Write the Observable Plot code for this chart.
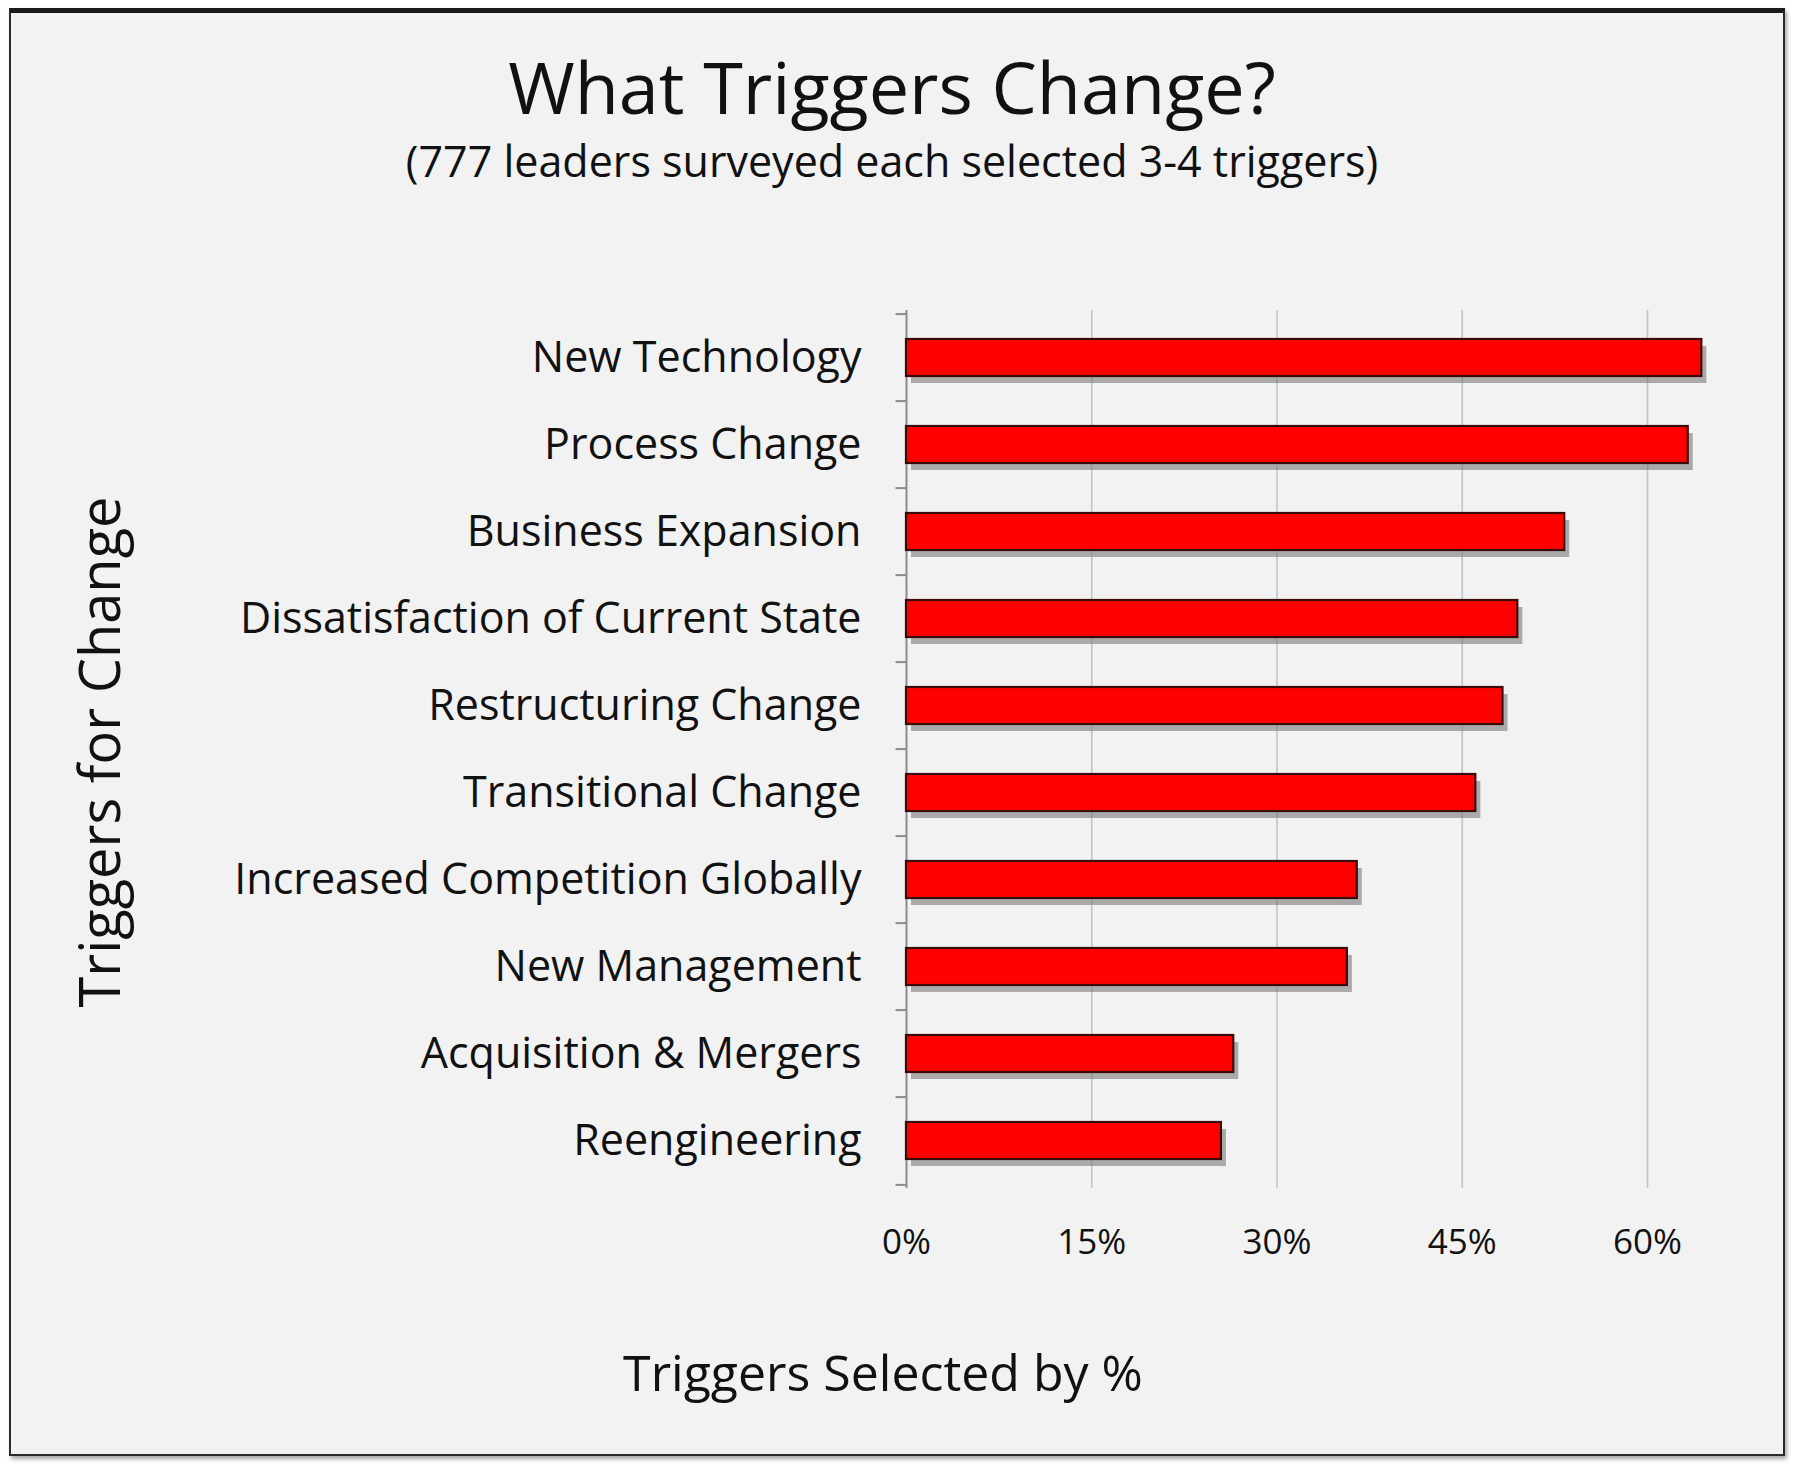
<!DOCTYPE html>
<html>
<head>
<meta charset="utf-8">
<script src="https://cdn.jsdelivr.net/npm/d3@7"></script>
<script src="https://cdn.jsdelivr.net/npm/@observablehq/plot@0.6"></script>
<style>
  html, body { margin: 0; padding: 0; background: #ffffff; }
  #page { position: relative; width: 1800px; height: 1472px; overflow: hidden; font-family: "Open Sans", sans-serif; color: #111; }
  #frame { position: absolute; left: 9px; top: 8px; width: 1776px; height: 1448px; box-sizing: border-box;
           border: 2px solid #2a2a2a; border-top: 5px solid #1a1a1a; background: #f2f2f2;
           box-shadow: 2px 3px 4px rgba(0,0,0,0.35); }
  .title { position: absolute; left: 0; width: 1784px; text-align: center; white-space: nowrap; }
  #t1 { top: 42px; font-size: 72px; line-height: 88px; }
  #t2 { top: 135px; font-size: 43px; line-height: 52px; }
  #chart { position: absolute; left: 0; top: 220px; }
  #xlabel { position: absolute; left: 483px; width: 800px; top: 1342px; text-align: center; font-size: 50px; line-height: 60px; white-space: nowrap; }
  #ylabel { position: absolute; left: 98px; top: 752px; transform: translate(-50%, -50%) rotate(-90deg); font-size: 56px; line-height: 64px; white-space: nowrap; }
</style>
</head>
<body>
<div id="page">
  <div id="frame"></div>
  <div class="title" id="t1">What Triggers Change?</div>
  <div class="title" id="t2">(777 leaders surveyed each selected 3-4 triggers)</div>
  <div id="chart"></div>
  <div id="xlabel">Triggers Selected by %</div>
  <div id="ylabel">Triggers for Change</div>
</div>
<script>
const categories = [
  "New Technology",
  "Process Change",
  "Business Expansion",
  "Dissatisfaction of Current State",
  "Restructuring Change",
  "Transitional Change",
  "Increased Competition Globally",
  "New Management",
  "Acquisition & Mergers",
  "Reengineering"
];
const values = [64.4, 63.3, 53.3, 49.5, 48.3, 46.1, 36.5, 35.7, 26.5, 25.5];
const xTicks = [0, 15, 30, 45, 60];
const xGrid = [15, 30, 45, 60];

const data = categories.map((c, i) => ({trigger: c, pct: values[i]}));
const lastCategory = [categories[categories.length - 1]];

const H = 1230, mTop = 90, mBottom = 262;
const step = (H - mTop - mBottom) / categories.length;

const chart = Plot.plot({
  width: 1800,
  height: H,
  marginTop: mTop,
  marginBottom: mBottom,
  marginLeft: 906,
  marginRight: 29.5,
  style: {background: "transparent", fontFamily: "'Open Sans', sans-serif", color: "#111"},
  x: {domain: [0, 70], axis: null},
  y: {domain: categories, paddingInner: 0.58, paddingOuter: 0.29, axis: null},
  marks: [
    Plot.ruleX(xGrid, {stroke: "#c2c4c8", strokeWidth: 1.6}),
    Plot.ruleX([0], {stroke: "#8c8c8c", strokeWidth: 2}),
    Plot.ruleY(categories, {y: d => d, x1: () => -0.85, x2: () => 0, dy: -step / 2, stroke: "#8c8c8c", strokeWidth: 2}),
    Plot.ruleY(lastCategory, {y: d => d, x1: () => -0.85, x2: () => 0, dy: step / 2, stroke: "#8c8c8c", strokeWidth: 2}),
    Plot.barX(data, {x: "pct", y: "trigger", fill: "#7a7a7a", fillOpacity: 0.6, dx: 5, dy: 7, ariaLabel: "shadow"}),
    Plot.barX(data, {x: "pct", y: "trigger", fill: "#ff0000", stroke: "#3d0a0a", strokeWidth: 2.2}),
    Plot.axisY({tickSize: 0, tickPadding: 45, fontSize: 43, fill: "#111", label: null}),
    Plot.axisX(xTicks, {tickSize: 0, tickPadding: 41, fontSize: 35, fill: "#111", tickFormat: d => d + "%", label: null})
  ]
});

const svg = d3.select(chart);
const defs = svg.insert("defs", ":first-child");
defs.append("filter").attr("id", "shadowBlur").attr("x", "-10%").attr("y", "-50%").attr("width", "120%").attr("height", "200%")
  .append("feGaussianBlur").attr("stdDeviation", 3.5);
svg.select('g[aria-label="shadow"]').attr("filter", "url(#shadowBlur)");

document.getElementById("chart").appendChild(chart);
</script>
</body>
</html>
